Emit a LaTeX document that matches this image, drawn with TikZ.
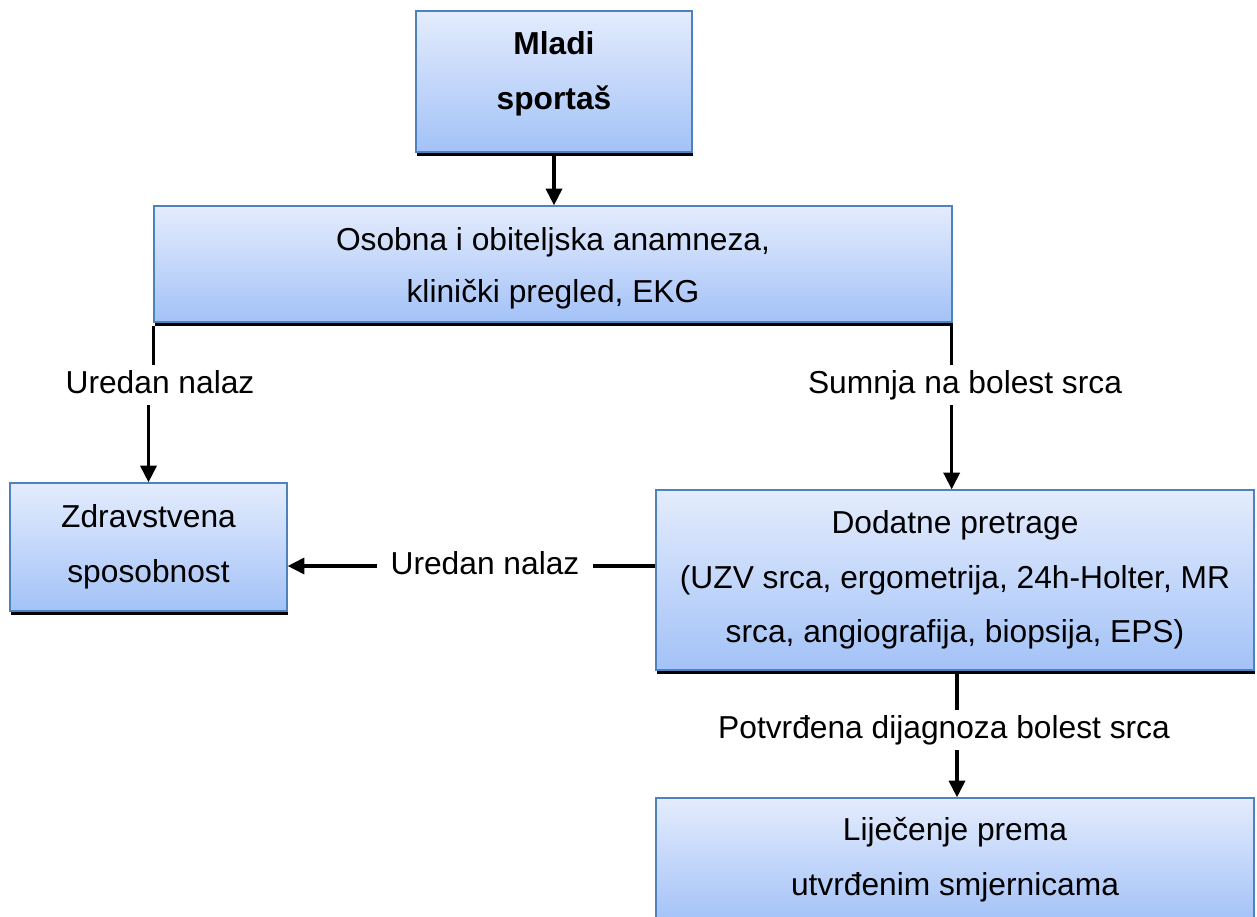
\documentclass[tikz,border=0pt]{standalone}
\usepackage{fontspec}
\setmainfont{Liberation Sans}
\usetikzlibrary{arrows.meta,shadows,calc}
\definecolor{boxborder}{RGB}{79,129,189}
\definecolor{boxtop}{RGB}{228,236,253}
\definecolor{boxbot}{RGB}{163,194,247}
\begin{document}
\begin{tikzpicture}[x=0.75pt,y=-0.75pt,
  box/.style={draw=boxborder, line width=1pt, top color=boxtop, bottom color=boxbot,
    align=center, inner sep=0pt,
    font=\fontsize{23.8}{41}\selectfont,
    drop shadow={shadow xshift=0.6pt, shadow yshift=-3pt, fill=black, opacity=1}},
  boxtext/.style={align=center, inner sep=0pt},
  lbl/.style={fill=white, inner xsep=10pt, inner ysep=3pt, text height=18.6pt, text depth=5.2pt,
    font=\fontsize{23.8}{28}\selectfont},
  conn/.style={line width=2.5pt},
  arr/.style={conn, -{Triangle[length=12.5pt,width=12pt]}}]
\useasboundingbox (0,0) rectangle (1257,917);

\node[box, minimum width=207pt, minimum height=105.75pt,
  label={[boxtext, yshift=6pt, font=\fontsize{23.8}{41}\selectfont\bfseries]center:Mladi\\sportaš}] (ms) at (554,81.5) {};
\node[box, minimum width=598.5pt, minimum height=87pt,
  label={[boxtext, yshift=-3.5pt, font=\fontsize{23.8}{39}\selectfont]center:Osobna i obiteljska anamneza,\\klinički pregled, EKG}] (os) at (553,264) {};
\node[box, minimum width=207.75pt, minimum height=96pt] (zd) at (148.5,547) {Zdravstvena\\sposobnost};
\node[box, minimum width=448.5pt, minimum height=135pt] (dp) at (955,580) {Dodatne pretrage\\(UZV srca, ergometrija, 24h-Holter, MR\\srca, angiografija, biopsija, EPS)};
\node[box, minimum width=448.5pt, minimum height=93pt] (lj) at (955,860) {Liječenje prema\\utvrđenim smjernicama};

\node[lbl] (l1) at (160,385) {Uredan nalaz};
\node[lbl] (l2) at (965,385) {Sumnja na bolest srca};
\node[lbl] (l3) at (485,566) {Uredan nalaz};
\node[lbl] (l4) at (944,730) {Potvrđena dijagnoza bolest srca};

\draw[arr] ($(ms.south)+(0,3)$) -- (ms.south |- os.north);

\draw[conn] ($(os.south west)+(0,3)$) -- (os.south west |- l1.north);
\draw[arr] (zd.north |- l1.south) -- (zd.north);

\draw[conn] ($(os.south east)+(-1,3)$) -- ($(os.south east |- l2.north)+(-1,0)$);
\draw[arr] ($(os.south east |- l2.south)+(-1,0)$) -- ($(os.south east |- dp.north)+(-1,0)$);

\draw[conn] (dp.west |- l3) -- (l3.east);
\draw[arr] (l3.west) -- (zd.east |- l3);

\draw[conn] ($(dp.south)+(2,3)$) -- ($(dp.south |- l4.north)+(2,0)$);
\draw[arr] ($(dp.south |- l4.south)+(2,0)$) -- ($(lj.north)+(2,0)$);
\end{tikzpicture}
\end{document}
